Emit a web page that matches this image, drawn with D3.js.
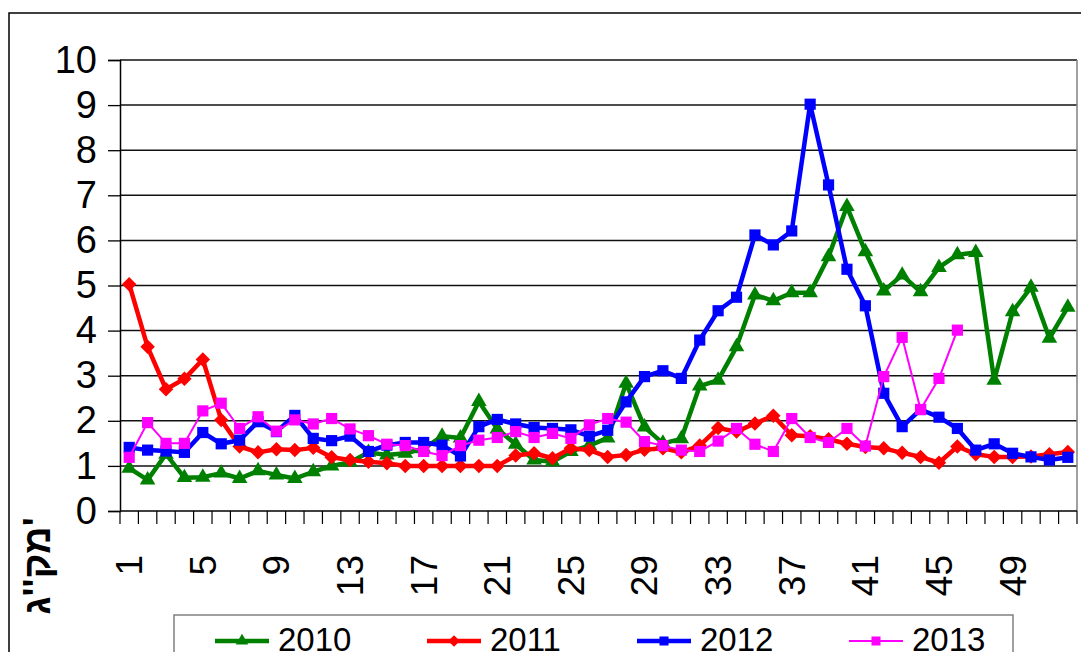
<!DOCTYPE html>
<html>
<head>
<meta charset="utf-8">
<script src="https://cdn.jsdelivr.net/npm/d3@7"></script>
<style>
  body { margin: 0; background: #fff; }
  svg { display: block; font-family: "Liberation Sans", Arial, sans-serif; }
</style>
</head>
<body>
<svg width="1081" height="652"></svg>
<script>
// week numbers
var weeks = d3.range(1, 53);
var xTickLabels = [1, 5, 9, 13, 17, 21, 25, 29, 33, 37, 41, 45, 49];
var yTicks = [0, 1, 2, 3, 4, 5, 6, 7, 8, 9, 10];

// values
var s2010 = [0.95, 0.69, 1.26, 0.74, 0.75, 0.84, 0.72, 0.89, 0.80, 0.72, 0.87, 1.00, 1.08, 1.30, 1.24, 1.28, 1.38, 1.66, 1.62, 2.43,
             1.82, 1.48, 1.13, 1.09, 1.32, 1.45, 1.62, 2.83, 1.86, 1.50, 1.60, 2.77, 2.90, 3.64, 4.79, 4.66, 4.84, 4.84, 5.64, 6.75,
             5.75, 4.88, 5.23, 4.86, 5.40, 5.68, 5.73, 2.90, 4.42, 4.96, 3.83, 4.52];
var s2011 = [5.03, 3.64, 2.70, 2.93, 3.36, 2.02, 1.43, 1.30, 1.37, 1.35, 1.40, 1.19, 1.13, 1.09, 1.06, 1.00, 1.00, 1.00, 1.00, 1.00,
             1.00, 1.23, 1.28, 1.17, 1.39, 1.35, 1.20, 1.24, 1.36, 1.39, 1.30, 1.45, 1.84, 1.76, 1.94, 2.11, 1.68, 1.66, 1.59, 1.49,
             1.42, 1.39, 1.29, 1.20, 1.07, 1.43, 1.26, 1.20, 1.20, 1.21, 1.26, 1.31];
var s2012 = [1.41, 1.35, 1.33, 1.30, 1.74, 1.49, 1.57, 1.98, 1.76, 2.12, 1.61, 1.56, 1.66, 1.32, 1.46, 1.52, 1.52, 1.46, 1.22, 1.87,
             2.03, 1.93, 1.85, 1.83, 1.80, 1.66, 1.79, 2.42, 2.98, 3.11, 2.94, 3.79, 4.44, 4.74, 6.12, 5.90, 6.21, 9.02, 7.23, 5.36,
             4.55, 2.61, 1.87, 2.25, 2.08, 1.83, 1.35, 1.49, 1.28, 1.20, 1.13, 1.19];
var s2013 = [1.19, 1.96, 1.50, 1.50, 2.22, 2.39, 1.83, 2.09, 1.77, 2.02, 1.93, 2.05, 1.82, 1.67, 1.48, 1.45, 1.32, 1.23, 1.45, 1.57,
             1.63, 1.76, 1.63, 1.72, 1.61, 1.91, 2.05, 1.97, 1.54, 1.45, 1.35, 1.32, 1.55, 1.83, 1.48, 1.32, 2.05, 1.63, 1.52, 1.83,
             1.44, 2.98, 3.85, 2.25, 2.94, 4.01];

var seriesNames = ["2010", "2011", "2012", "2013"];
var yLabel = "מק''ג'";

var series = [
  { name: seriesNames[0], values: s2010, color: "#008000", width: 4.5, shape: "triangle" },
  { name: seriesNames[1], values: s2011, color: "#FF0000", width: 4.5, shape: "diamond" },
  { name: seriesNames[2], values: s2012, color: "#0000FF", width: 4.5, shape: "square" },
  { name: seriesNames[3], values: s2013, color: "#FF00FF", width: 2, shape: "square" }
];

var svg = d3.select("svg");

// plot area edges
var plotLeft = 120, plotRight = 1077, plotTop = 60, plotBottom = 511;

var x = d3.scaleBand().domain(weeks).range([plotLeft, plotRight]).padding(0);
var y = d3.scaleLinear().domain([0, 10]).range([plotBottom, plotTop]);
var cx = function(w) { return x(w) + x.bandwidth() / 2; };

// outer chart border
svg.append("rect")
    .attr("x", 9).attr("y", 13)
    .attr("width", 1100).attr("height", 700)
    .attr("fill", "none").attr("stroke", "#000").attr("stroke-width", 1.5);

// gridlines
svg.append("g").selectAll("line")
    .data(yTicks.filter(function(d) { return d > 0; }))
  .enter().append("line")
    .attr("x1", plotLeft).attr("x2", plotRight)
    .attr("y1", function(d) { return y(d); })
    .attr("y2", function(d) { return y(d); })
    .attr("stroke", "#111").attr("stroke-width", 1.5);

// plot right border
svg.append("line")
    .attr("x1", plotRight).attr("x2", plotRight).attr("y1", plotTop).attr("y2", plotBottom)
    .attr("stroke", "#808080").attr("stroke-width", 1.5);

// y axis
var yAxis = d3.axisLeft(y).tickValues(yTicks).tickSize(12).tickPadding(11).tickFormat(d3.format("d"));
var gy = svg.append("g").attr("transform", "translate(" + plotLeft + ",0)").call(yAxis);
gy.select(".domain").attr("stroke", "#000").attr("stroke-width", 1.5);
gy.selectAll(".tick line").attr("stroke", "#000").attr("stroke-width", 1.3);
gy.selectAll(".tick text")
    .attr("font-size", 38).attr("fill", "#000")
    .attr("font-family", "'Liberation Sans', Arial, sans-serif");

// x axis line and tick marks between categories
svg.append("line")
    .attr("x1", plotLeft).attr("x2", plotRight).attr("y1", plotBottom).attr("y2", plotBottom)
    .attr("stroke", "#000").attr("stroke-width", 1.5);
svg.append("g").selectAll("line")
    .data(weeks.map(function(w) { return x(w); }).concat([x.range()[1]]))
  .enter().append("line")
    .attr("x1", function(d) { return d; }).attr("x2", function(d) { return d; })
    .attr("y1", plotBottom).attr("y2", plotBottom + 13)
    .attr("stroke", "#000").attr("stroke-width", 1.2);

svg.append("g").selectAll("text")
    .data(xTickLabels)
  .enter().append("text")
    .attr("transform", function(d) { return "translate(" + cx(d) + "," + (plotBottom + 44) + ") rotate(-90)"; })
    .attr("text-anchor", "end")
    .attr("dy", "0.35em")
    .attr("font-size", 37)
    .text(function(d) { return d; });

// y label
svg.append("text")
    .attr("transform", "translate(37,566) rotate(-90)")
    .attr("text-anchor", "middle")
    .attr("dy", "0.35em")
    .attr("font-size", 38)
    .attr("font-weight", "bold")
    .text(yLabel);

function marker(shape, scale) {
  scale = scale || 1;
  if (shape === "triangle") return d3.symbol().type(d3.symbolTriangle).size(105 * scale)();
  if (shape === "diamond") return d3.symbol().type(d3.symbolSquare).size(105 * scale)();
  return d3.symbol().type(d3.symbolSquare).size(125 * scale)();
}

var line = d3.line()
    .x(function(d, i) { return cx(weeks[i]); })
    .y(function(d) { return y(d); });

series.forEach(function(s) {
  var g = svg.append("g");
  g.append("path")
      .datum(s.values)
      .attr("d", line)
      .attr("fill", "none")
      .attr("stroke", s.color)
      .attr("stroke-width", s.width)
      .attr("stroke-linejoin", "round");
  g.selectAll("path.m")
      .data(s.values)
    .enter().append("path")
      .attr("class", "m")
      .attr("d", marker(s.shape))
      .attr("transform", function(d, i) {
        return "translate(" + cx(weeks[i]) + "," + y(d) + ")" + (s.shape === "diamond" ? " rotate(45)" : "");
      })
      .attr("fill", s.color);
});

// legend
var legend = svg.append("g");
legend.append("rect")
    .attr("x", 174).attr("y", 615).attr("width", 839).attr("height", 80)
    .attr("fill", "#fff").attr("stroke", "#808080").attr("stroke-width", 1.5);
var legX = [215, 427, 637, 849];
series.forEach(function(s, i) {
  var g = legend.append("g").attr("transform", "translate(" + legX[i] + ",641)");
  g.append("line").attr("x1", 0).attr("x2", 54)
      .attr("stroke", s.color).attr("stroke-width", s.width);
  g.append("path")
      .attr("d", marker(s.shape, 0.65))
      .attr("transform", "translate(27,0)" + (s.shape === "diamond" ? " rotate(45)" : ""))
      .attr("fill", s.color);
  g.append("text")
      .attr("x", 63).attr("y", 10)
      .attr("font-size", 33)
      .text(s.name);
});
</script>
</body>
</html>
